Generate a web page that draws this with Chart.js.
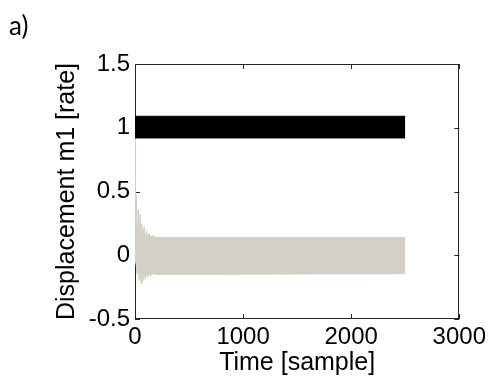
<!DOCTYPE html>
<html>
<head>
<meta charset="utf-8">
<script src="https://cdn.jsdelivr.net/npm/chart.js@4/dist/chart.umd.min.js"></script>
<style>
  html, body { margin: 0; padding: 0; background: #fff; }
  #wrap { position: relative; width: 490px; height: 378px; }
  #panel { position: absolute; left: 9px; top: 9px; font-family: Lato, "Open Sans", sans-serif; font-size: 26px; color: #000; }
  canvas { position: absolute; left: 0; top: 0; }
</style>
</head>
<body>
<div id="wrap">
  <canvas id="c" width="490" height="378"></canvas>
  <div id="panel">a)</div>
</div>
<script>
// ---- data ----
const xTickLabels = ['0', '1000', '2000', '3000'];
const yTickLabels = ['-0.5', '0', '0.5', '1', '1.5'];

// black series (m1 at ~1): envelope of the dense oscillation
const blackX     = [0, 2500];
const blackUpper = [1.09, 1.09];
const blackLower = [0.92, 0.92];

// gray series (near 0): envelope of the dense oscillation, with decaying start
const grayX     = [0, 5, 12, 20, 30, 38, 47, 56, 64, 74, 84, 95, 106, 118, 130, 145, 165, 190, 2500];
const grayUpper = [0.92, 0.10, 0.47, 0.12, 0.36, 0.13, 0.32, 0.13, 0.25, 0.13, 0.22, 0.135, 0.19, 0.135, 0.17, 0.14, 0.155, 0.14, 0.14];
const grayLower = [0.45, -0.05, -0.08, -0.15, -0.07, -0.20, -0.12, -0.22, -0.13, -0.20, -0.14, -0.19, -0.145, -0.17, -0.145, -0.16, -0.145, -0.15, -0.145];

const GRAY = '#d4d0c8';
const BLACK = '#000000';
const FONT = '"Liberation Sans", Arial, sans-serif';

function pts(xs, ys) { return xs.map((x, i) => ({ x: x, y: ys[i] })); }

const boxPlugin = {
  id: 'box',
  beforeDatasetsDraw(chart) {
    const { ctx, chartArea: a, scales } = chart;
    ctx.save();
    ctx.strokeStyle = '#262626';
    ctx.lineWidth = 1;
    ctx.strokeRect(Math.round(a.left) + 0.5, Math.round(a.top) + 0.5, Math.round(a.right - a.left) - 1, Math.round(a.bottom - a.top) - 1);
    const L = 5;
    ctx.beginPath();
    scales.x.ticks.forEach(t => {
      const px = Math.round(scales.x.getPixelForValue(t.value)) + 0.5;
      ctx.moveTo(px, a.bottom); ctx.lineTo(px, a.bottom - L);
      ctx.moveTo(px, a.top); ctx.lineTo(px, a.top + L);
    });
    scales.y.ticks.forEach(t => {
      const py = Math.round(scales.y.getPixelForValue(t.value)) + 0.5;
      ctx.moveTo(a.left, py); ctx.lineTo(a.left + L, py);
      ctx.moveTo(a.right, py); ctx.lineTo(a.right - L, py);
    });
    ctx.stroke();
    ctx.restore();
  }
};

new Chart(document.getElementById('c'), {
  type: 'line',
  data: {
    datasets: [
      { data: pts(blackX, blackUpper), borderColor: BLACK, borderWidth: 1, pointRadius: 0, fill: false },
      { data: pts(blackX, blackLower), borderColor: BLACK, borderWidth: 1, pointRadius: 0, fill: '-1', backgroundColor: BLACK },
      { data: pts(grayX, grayUpper), borderColor: GRAY, borderWidth: 1, pointRadius: 0, fill: false },
      { data: pts(grayX, grayLower), borderColor: GRAY, borderWidth: 1, pointRadius: 0, fill: '-1', backgroundColor: GRAY }
    ]
  },
  options: {
    responsive: false,
    animation: false,
    events: [],
    layout: { padding: { left: 52, top: 64, right: 29, bottom: 0 } },
    plugins: { legend: { display: false }, tooltip: { enabled: false } },
    elements: { line: { tension: 0 } },
    scales: {
      x: {
        type: 'linear', min: 0, max: 3000,
        afterFit(s) { s.height = 59; },
        afterBuildTicks(s) { s.ticks = xTickLabels.map(v => ({ value: Number(v) })); },
        ticks: { padding: 4, color: '#000', font: { family: FONT, size: 24 }, maxRotation: 0,
                 callback: (v, i) => xTickLabels[i] },
        grid: { display: false, drawTicks: false },
        border: { display: false },
        title: { display: true, text: 'Time [sample]', color: '#000', font: { family: FONT, size: 25 }, padding: 0 }
      },
      y: {
        type: 'linear', min: -0.5, max: 1.5,
        afterFit(s) { s.width = 83; },
        afterBuildTicks(s) { s.ticks = yTickLabels.map(v => ({ value: Number(v) })); },
        ticks: { padding: 5, color: '#000', font: { family: FONT, size: 24 },
                 callback: (v, i) => yTickLabels[i] },
        grid: { display: false, drawTicks: false },
        border: { display: false },
        title: { display: true, text: 'Displacement m1 [rate]', color: '#000', font: { family: FONT, size: 25 }, padding: 0 }
      }
    }
  },
  plugins: [boxPlugin]
});
</script>
</body>
</html>
